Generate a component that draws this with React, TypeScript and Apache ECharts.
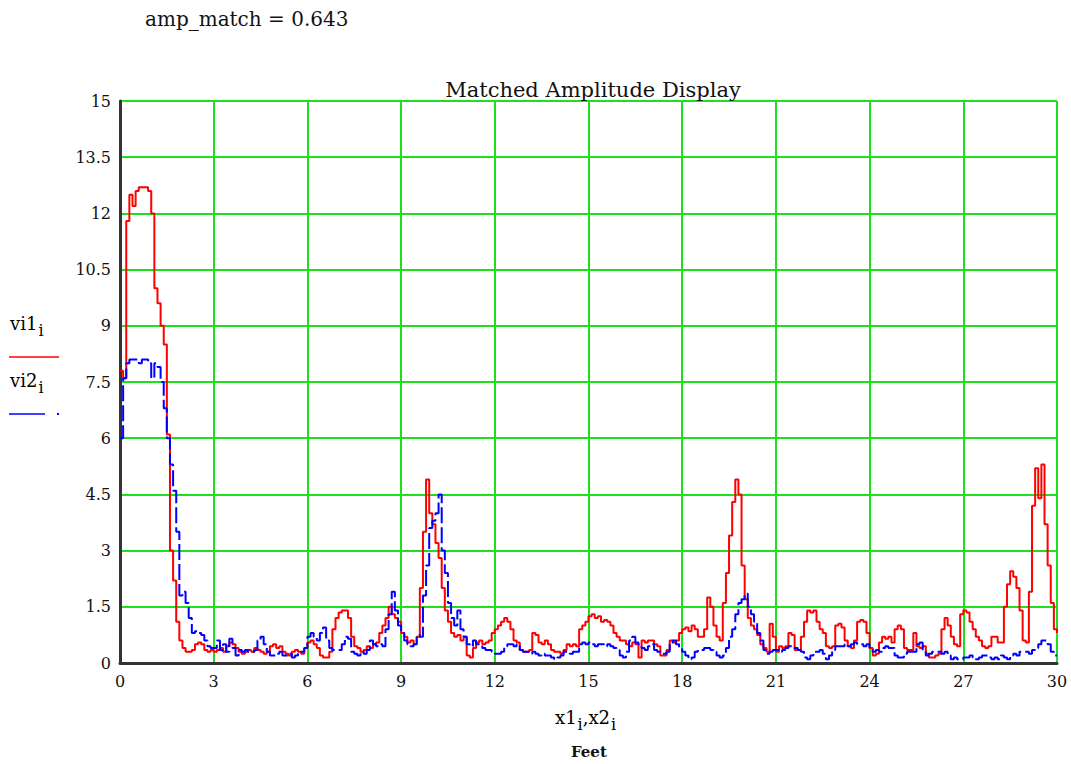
import React, { useEffect, useRef } from "react";
import * as echarts from "echarts";

// Sample spacing along the x axis (feet)
const xStep = 0.1;

// vi1 amplitude, one value every 0.1 ft from 0 to 30 ft
const vi1: number[] = [
  7.8, 7.6, 11.8, 12.5, 12.2, 12.6, 12.7, 12.7, 12.7, 12.6,
  12.0, 10.0, 9.6, 9.0, 8.5, 6.1, 3.0, 2.2, 1.1, 0.6,
  0.4, 0.3, 0.3, 0.35, 0.5, 0.55, 0.5, 0.35, 0.3, 0.35,
  0.3, 0.35, 0.4, 0.3, 0.45, 0.55, 0.5, 0.4, 0.3, 0.25,
  0.3, 0.35, 0.3, 0.4, 0.35, 0.3, 0.25, 0.3, 0.45, 0.5,
  0.4, 0.45, 0.3, 0.25, 0.2, 0.3, 0.35, 0.3, 0.25, 0.4,
  0.55, 0.6, 0.5, 0.4, 0.2, 0.15, 0.15, 0.3, 0.9, 1.2,
  1.35, 1.4, 1.4, 1.2, 0.7, 0.45, 0.4, 0.3, 0.35, 0.45,
  0.4, 0.5, 0.55, 0.8, 1.0, 1.2, 1.5, 1.3, 1.2, 1.1,
  0.8, 0.7, 0.55, 0.6, 0.5, 0.7, 2.0, 3.5, 4.9, 4.0,
  3.7, 3.2, 2.8, 2.0, 1.4, 1.1, 0.8, 0.7, 0.75, 0.6,
  0.7, 0.2, 0.15, 0.4, 0.55, 0.6, 0.5, 0.55, 0.6, 0.8,
  0.9, 1.0, 1.1, 1.2, 1.1, 0.9, 0.6, 0.55, 0.35, 0.3,
  0.3, 0.35, 0.8, 0.75, 0.55, 0.5, 0.6, 0.5, 0.35, 0.3,
  0.3, 0.25, 0.35, 0.5, 0.45, 0.5, 0.45, 0.9, 1.0, 1.1,
  1.25, 1.3, 1.2, 1.25, 1.1, 1.15, 1.1, 1.0, 0.8, 0.7,
  0.6, 0.6, 0.5, 0.45, 0.55, 0.5, 0.15, 0.6, 0.55, 0.6,
  0.6, 0.5, 0.45, 0.2, 0.2, 0.35, 0.6, 0.55, 0.6, 0.8,
  0.9, 0.95, 0.85, 1.0, 0.9, 0.7, 0.7, 0.9, 1.75, 1.5,
  1.0, 0.7, 0.6, 1.6, 2.4, 3.4, 4.3, 4.9, 4.5, 2.6,
  1.7, 1.2, 1.0, 0.9, 0.75, 0.5, 0.4, 0.3, 1.05, 0.7,
  0.3, 0.45, 0.4, 0.45, 0.8, 0.75, 0.35, 0.35, 0.7, 1.1,
  1.4, 1.35, 1.4, 1.1, 0.9, 0.8, 0.45, 0.4, 0.45, 1.0,
  1.05, 0.95, 0.6, 0.45, 0.4, 0.6, 1.1, 1.15, 1.1, 0.8,
  0.4, 0.2, 0.25, 0.55, 0.7, 0.65, 0.7, 0.55, 0.9, 1.0,
  0.9, 0.4, 0.35, 0.35, 0.8, 0.45, 0.4, 0.45, 0.25, 0.15,
  0.15, 0.2, 0.25, 0.9, 1.2, 1.0, 0.7, 0.5, 0.45, 1.3,
  1.4, 1.35, 1.1, 0.9, 0.7, 0.6, 0.45, 0.4, 0.45, 0.7,
  0.7, 0.55, 0.55, 1.5, 2.1, 2.45, 2.3, 2.0, 1.4, 0.6,
  0.55, 1.9, 4.2, 5.2, 4.4, 5.3, 3.7, 2.6, 1.6, 0.9,
  0.8,
];

// vi2 amplitude, same sampling
const vi2: number[] = [
  6.0, 7.6, 8.0, 8.1, 8.1, 8.1, 8.0, 8.1, 8.1, 8.0,
  7.6, 8.0, 7.9, 7.5, 6.8, 6.0, 5.3, 4.6, 3.5, 1.8,
  1.9, 1.6, 1.2, 0.8, 0.85, 0.8, 0.75, 0.6, 0.45, 0.4,
  0.4, 0.6, 0.35, 0.5, 0.3, 0.65, 0.4, 0.2, 0.35, 0.3,
  0.35, 0.3, 0.3, 0.35, 0.6, 0.7, 0.5, 0.3, 0.2, 0.2,
  0.25, 0.3, 0.2, 0.2, 0.25, 0.15, 0.2, 0.25, 0.3, 0.4,
  0.7, 0.8, 0.7, 0.6, 0.8, 0.95, 0.6, 0.4, 0.35, 0.35,
  0.35, 0.5, 0.7, 0.65, 0.3, 0.25, 0.2, 0.3, 0.25, 0.35,
  0.6, 0.5, 0.45, 0.5, 0.45, 0.9, 1.3, 1.9, 1.4, 1.0,
  0.8, 0.6, 0.5, 0.45, 0.5, 0.75, 0.7, 1.8, 2.6, 3.6,
  3.8, 4.0, 4.5, 3.0, 2.4, 1.6, 1.2, 1.0, 1.4, 0.9,
  0.7, 0.5, 0.45, 0.6, 0.5, 0.45, 0.4, 0.35, 0.35, 0.3,
  0.25, 0.25, 0.3, 0.45, 0.5, 0.5, 0.45, 0.5, 0.35, 0.3,
  0.3, 0.25, 0.3, 0.25, 0.2, 0.25, 0.2, 0.2, 0.15, 0.1,
  0.15, 0.2, 0.3, 0.3, 0.25, 0.3, 0.3, 0.5, 0.55, 0.5,
  0.55, 0.5, 0.45, 0.5, 0.5, 0.45, 0.5, 0.45, 0.4, 0.35,
  0.2, 0.15, 0.3, 0.6, 0.7, 0.55, 0.5, 0.4, 0.35, 0.45,
  0.5, 0.35, 0.3, 0.25, 0.25, 0.3, 0.55, 0.6, 0.5, 0.4,
  0.3, 0.2, 0.1, 0.15, 0.3, 0.35, 0.35, 0.4, 0.4, 0.35,
  0.3, 0.2, 0.15, 0.2, 0.4, 0.7, 0.9, 1.3, 1.6, 1.7,
  1.85, 1.5, 1.3, 1.1, 0.8, 0.6, 0.35, 0.25, 0.3, 0.35,
  0.35, 0.3, 0.35, 0.4, 0.45, 0.4, 0.4, 0.35, 0.3, 0.15,
  0.1, 0.2, 0.3, 0.3, 0.35, 0.25, 0.1, 0.2, 0.35, 0.45,
  0.45, 0.45, 0.5, 0.45, 0.5, 0.55, 0.5, 0.5, 0.45, 0.5,
  0.4, 0.3, 0.35, 0.3, 0.4, 0.45, 0.4, 0.4, 0.2, 0.15,
  0.15, 0.25, 0.3, 0.3, 0.3, 0.5, 0.55, 0.3, 0.2, 0.25,
  0.3, 0.3, 0.3, 0.25, 0.3, 0.2, 0.1, 0.15, 0.1, 0.1,
  0.15, 0.15, 0.2, 0.15, 0.1, 0.15, 0.2, 0.2, 0.15, 0.1,
  0.15, 0.1, 0.2, 0.15, 0.1, 0.2, 0.25, 0.2, 0.3, 0.3,
  0.3, 0.25, 0.35, 0.4, 0.5, 0.6, 0.6, 0.5, 0.3, 0.2,
  0.2,
];

const ampMatch = 0.643;
const chartTitle = "Matched Amplitude Display";
const xAxisUnit = "Feet";

const serif = "DejaVu Serif";

function toPairs(values: number[]): [number, number][] {
  return values.map((v, i) => [Number((i * xStep).toFixed(2)), v]);
}

const sub = {
  b: { fontFamily: serif, fontSize: 18, color: "#111" },
  s: { fontFamily: serif, fontSize: 16, color: "#111", padding: [15, 0, 0, 1] },
};

export default function App() {
  const ref = useRef<HTMLDivElement>(null);

  useEffect(() => {
    if (!ref.current) return;
    const chart = echarts.init(ref.current, undefined, { renderer: "svg" });
    const green = "#1fe01f";

    chart.setOption({
      animation: false,
      backgroundColor: "#ffffff",
      textStyle: { fontFamily: serif },
      title: {
        text: chartTitle,
        left: 588,
        top: 74,
        textAlign: "center",
        textStyle: { fontFamily: serif, fontSize: 21, fontWeight: "normal", color: "#111" },
      },
      grid: { left: 120, right: 14, top: 101, bottom: 101 },
      xAxis: {
        type: "value",
        min: 0,
        max: 30,
        interval: 3,
        axisLine: { show: true, onZero: false, lineStyle: { color: "#333", width: 3 } },
        axisTick: { show: false },
        splitLine: { show: true, lineStyle: { color: green, width: 2 } },
        axisLabel: { fontFamily: serif, fontSize: 16, color: "#111", margin: 10 },
      },
      yAxis: {
        type: "value",
        min: 0,
        max: 15,
        interval: 1.5,
        axisLine: { show: true, lineStyle: { color: "#333", width: 3 } },
        axisTick: { show: false },
        splitLine: { show: true, lineStyle: { color: green, width: 2 } },
        axisLabel: { fontFamily: serif, fontSize: 16, color: "#111", margin: 9 },
      },
      series: [
        {
          name: "vi1",
          type: "line",
          step: "end",
          showSymbol: false,
          data: toPairs(vi1),
          lineStyle: { color: "#ff0000", width: 2 },
          z: 3,
        },
        {
          name: "vi2",
          type: "line",
          step: "end",
          showSymbol: false,
          data: toPairs(vi2),
          lineStyle: { color: "#0000ff", width: 2, type: [16, 4] },
          z: 4,
        },
      ],
      graphic: [
        {
          type: "text",
          left: 145,
          top: 9,
          style: {
            text: `amp_match = ${ampMatch}`,
            fontFamily: serif,
            fontSize: 20,
            fill: "#111",
          },
        },
        {
          type: "text",
          left: 10,
          top: 314,
          style: { text: "{b|vi1}{s|i}", rich: sub },
        },
        {
          type: "line",
          shape: { x1: 9, y1: 357, x2: 59, y2: 357 },
          style: { stroke: "#ff0000", lineWidth: 1.5 },
        },
        {
          type: "text",
          left: 10,
          top: 371,
          style: { text: "{b|vi2}{s|i}", rich: sub },
        },
        {
          type: "line",
          shape: { x1: 9, y1: 414, x2: 45, y2: 414 },
          style: { stroke: "#0000ff", lineWidth: 1.5 },
        },
        {
          type: "rect",
          shape: { x: 57, y: 413, width: 2, height: 2 },
          style: { fill: "#0000ff" },
        },
        {
          type: "text",
          left: 555,
          top: 708,
          style: { text: "{b|x1}{s|i}{b|,x2}{s|i}", rich: sub },
        },
        {
          type: "text",
          left: 571,
          top: 744,
          style: {
            text: xAxisUnit,
            fontFamily: serif,
            fontSize: 15,
            fontWeight: "bold",
            fill: "#111",
          },
        },
      ],
    });

    return () => chart.dispose();
  }, []);

  return (
    <div
      ref={ref}
      style={{ position: "absolute", left: 0, top: 0, width: 1071, height: 764 }}
    />
  );
}
